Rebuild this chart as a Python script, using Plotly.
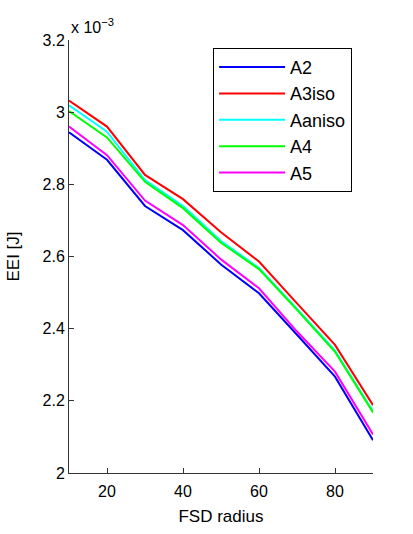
import plotly.graph_objects as go

fsd_radius = [10, 20, 30, 40, 50, 60, 70, 80, 90]
# EEI values in units of 1e-3 J
A2 = [2.944, 2.868, 2.740, 2.673, 2.578, 2.498, 2.383, 2.267, 2.091]
A3iso = [3.032, 2.960, 2.826, 2.759, 2.667, 2.586, 2.470, 2.355, 2.188]
Aaniso = [3.019, 2.946, 2.812, 2.740, 2.643, 2.568, 2.455, 2.339, 2.171]
A4 = [3.003, 2.930, 2.807, 2.734, 2.638, 2.565, 2.452, 2.336, 2.168]
A5 = [2.960, 2.881, 2.755, 2.687, 2.592, 2.512, 2.392, 2.281, 2.107]

series = [("A2", A2, "#0000ff"), ("A3iso", A3iso, "#ff0000"),
          ("Aaniso", Aaniso, "#00ffff"), ("A4", A4, "#00ff00"),
          ("A5", A5, "#ff00ff")]

y_ticks = [2.0, 2.2, 2.4, 2.6, 2.8, 3.0, 3.2]
y_ticktext = ["2", "2.2", "2.4", "2.6", "2.8", "3", "3.2"]
x_ticks = [20, 40, 60, 80]

font = "Liberation Sans, Arial, Helvetica, sans-serif"

fig = go.Figure()
for name, vals, col in series:
    fig.add_trace(go.Scatter(x=fsd_radius, y=vals, mode="lines", name=name,
                             line=dict(color=col, width=2)))

fig.update_layout(
    width=413, height=534,
    margin=dict(l=69, r=40, t=40, b=61),
    paper_bgcolor="white", plot_bgcolor="white",
    font=dict(family=font, size=16, color="black"),
    showlegend=True,
    legend=dict(x=0.474, y=0.982, xanchor="left", yanchor="top",
                bordercolor="black", borderwidth=1, bgcolor="white",
                font=dict(size=18), tracegroupgap=0, itemwidth=66),
    xaxis=dict(range=[10, 90], tickvals=x_ticks, ticks="inside", ticklen=5,
               showgrid=False, zeroline=False, showline=True,
               linecolor="#333", linewidth=1, tickcolor="#333",
               ticklabelstandoff=4,
               title=dict(text="FSD radius", font=dict(size=17), standoff=10)),
    yaxis=dict(range=[2.0, 3.2], tickvals=y_ticks, ticktext=y_ticktext,
               ticks="inside", ticklen=5, showgrid=False, zeroline=False,
               showline=True, linecolor="#333", linewidth=1, tickcolor="#333",
               title=dict(text="EEI [J]", font=dict(size=17), standoff=18)),
    annotations=[dict(text="x 10<sup>−3</sup>", xref="paper", yref="paper",
                      x=0, y=1, xanchor="left", yanchor="bottom",
                      showarrow=False, font=dict(size=16), yshift=2)],
)

fig.write_html("out.html")
